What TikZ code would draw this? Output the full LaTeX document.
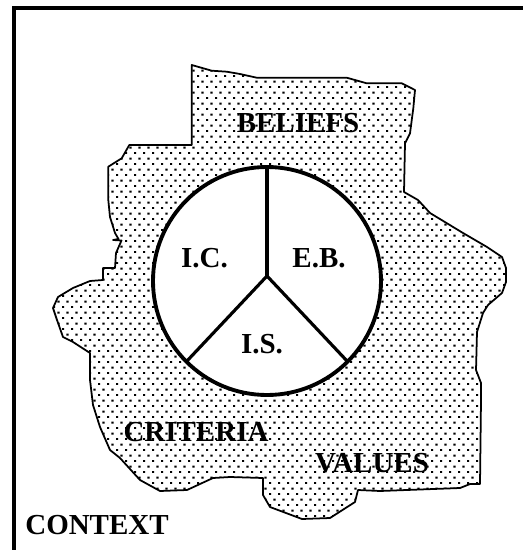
\documentclass[tikz,border=0pt]{standalone}
\usepackage{fontspec}
\setmainfont{Liberation Serif}
\usetikzlibrary{patterns.meta}

\tikzdeclarepattern{
  name=stipple,
  type=uncolored,
  bounding box={(0pt,0pt) and (5.1pt,6.43pt)},
  tile size={(5.1pt,6.43pt)},
  code={
    \fill (0pt,0pt) rectangle (1.2pt,1.2pt);
    \fill (2.55pt,3.215pt) rectangle (3.75pt,4.415pt);
  }
}

\begin{document}
\begin{tikzpicture}[x=0.02cm, y=-0.02cm,
        region/.style={draw=black, line width=1pt, line join=round,
                       pattern=stipple, pattern color=black},
        ring/.style={draw=black, line width=2.2pt},
        spoke/.style={draw=black, line width=1.8pt},
        lbl/.style={font=\fontsize{16.5}{18}\selectfont\bfseries, inner sep=0pt}]
      \useasboundingbox (0,0) rectangle (523,550);
      \clip (0,0) rectangle (523,550);
      % frame, runs off at right and bottom
      \draw[line width=2.3pt] (530,8) -- (13.7,8) -- (13.7,560);

      % dotted region round the wheel
      \draw[region] (191.7,65) -- (211.7,70.7) -- (226.7,71.7) -- (240,74)
        -- (256.7,77.7) -- (346.7,77.7) -- (366.7,83.3) -- (401.7,83.3)
        -- (415,90) -- (413.3,108.3) -- (410,133.3) -- (405,143.3)
        -- (404,192) -- (418,200) -- (430,213) -- (463,233) -- (487,247)
        -- (502,257) -- (506,268) -- (506,282) -- (502,293) -- (488,305)
        -- (483,313) -- (477,332) -- (476,370) -- (481,383) -- (481,400)
        -- (480,484) -- (470,484) -- (460,488) -- (380,491) -- (358,490)
        -- (355,502) -- (330,518) -- (302,519) -- (270,507) -- (263,495)
        -- (263,478) -- (230,477) -- (213,478) -- (187,490) -- (160,491)
        -- (140,480) -- (120,458) -- (110,450) -- (100,427) -- (93,405)
        -- (90,380) -- (90,353) -- (73,342) -- (63,337) -- (57,320)
        -- (53,308) -- (58,297) -- (73,288) -- (90,281) -- (103,280)
        -- (103,268) -- (115,268) -- (116,253) -- (121.5,240.5) -- (113,240)
        -- (118.5,239) -- (115,233) -- (110,217) -- (108.3,200)
        -- (108.3,166.7) -- (121.7,158.3) -- (129.3,145) -- (191.7,145) -- cycle;

      % wheel
      \coordinate (cen) at (267,281);
      \coordinate (hub) at (267,276);
      \coordinate (top) at ([shift={(270:114)}]cen);
      \coordinate (lowl) at ([shift={(135:114)}]cen);
      \coordinate (lowr) at ([shift={(45:114)}]cen);
      \fill[white] (cen) circle (114);
      \draw[spoke] (hub) -- (top);
      \draw[spoke] (hub) -- (lowl);
      \draw[spoke] (hub) -- (lowr);
      \draw[ring] (cen) circle (114);

      \node[lbl] (beliefs) at (298,123) {BELIEFS};
      \node[lbl] (ic) at (204.5,258) {I.C.};
      \node[lbl] (eb) at (319,258) {E.B.};
      \node[lbl] (is) at (262,344.5) {I.S.};
      \node[lbl] (criteria) at (196,432) {CRITERIA};
      \node[lbl] (values) at (372,463) {VALUES};
      \node[lbl] (context) at (97,525) {CONTEXT};
    \end{tikzpicture}
\end{document}
